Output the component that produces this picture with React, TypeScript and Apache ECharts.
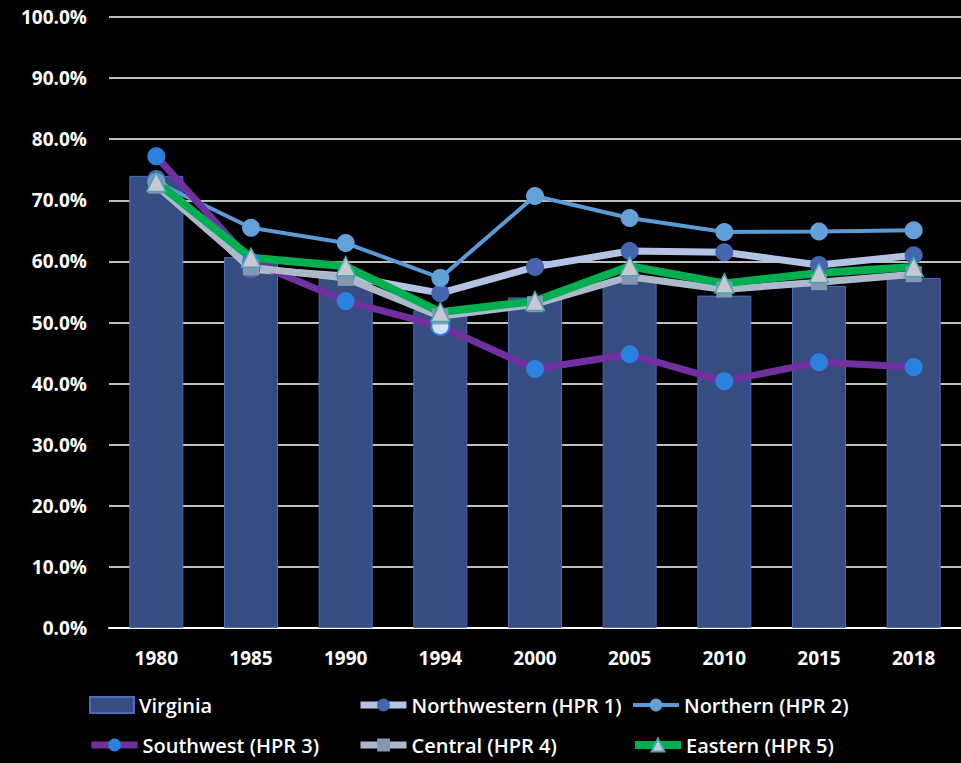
import React, { useEffect, useRef } from "react";
import * as echarts from "echarts";

const years = ["1980", "1985", "1990", "1994", "2000", "2005", "2010", "2015", "2018"];
const virginia = [74.0, 60.7, 57.3, 52.0, 54.1, 56.8, 54.4, 56.0, 57.3];
const northwestern = [73.5, 58.7, 57.6, 54.8, 59.1, 61.7, 61.5, 59.4, 61.0];
const northern = [73.0, 65.5, 63.0, 57.3, 70.7, 67.1, 64.8, 64.9, 65.1];
const southwest = [77.2, 60.0, 53.5, 49.4, 42.4, 44.8, 40.4, 43.5, 42.7];
const central = [72.4, 59.0, 57.3, 51.0, 53.0, 57.5, 55.4, 56.6, 57.9];
const eastern = [73.0, 60.6, 59.2, 51.7, 53.5, 59.2, 56.4, 58.1, 59.1];

const FONT = "'Open Sans', Lato, sans-serif";

export default function App() {
  const ref = useRef<HTMLDivElement>(null);
  useEffect(() => {
    if (!ref.current) return;
    const chart = echarts.init(ref.current, undefined, { renderer: "svg" });
    const legendText = { color: "#ffffff", fontSize: 20, fontFamily: FONT, fontWeight: 600 };
    const mkLegend = (name: string, left: number, top: number, lineWidth: number, isBar = false) => ({
      data: isBar ? [{ name, icon: "rect" }] : [name],
      left,
      top,
      padding: 0,
      itemWidth: isBar ? 44 : 46,
      itemHeight: 16,
      itemGap: 4,
      textStyle: legendText,
      selectedMode: false,
      lineStyle: { width: lineWidth },
    });
    const swData = southwest.map((v, i) =>
      i === 3
        ? { value: v, itemStyle: { color: "#cfe4fb", borderColor: "#2a80dc", borderWidth: 2 } }
        : v
    );
    chart.setOption({
      animation: false,
      backgroundColor: "#000000",
      grid: { left: 109, top: 17, width: 855, height: 611 },
      legend: [
        mkLegend("Virginia", 89, 695, 1, true),
        mkLegend("Northwestern (HPR 1)", 357, 695, 7),
        mkLegend("Northern (HPR 2)", 631, 695, 4),
        mkLegend("Southwest (HPR 3)", 88, 735, 7),
        mkLegend("Central (HPR 4)", 357, 735, 7),
        mkLegend("Eastern (HPR 5)", 631, 735, 8),
      ],
      xAxis: {
        type: "category",
        data: years,
        axisLine: { show: true, lineStyle: { color: "#ffffff", width: 2 } },
        axisTick: { show: false },
        axisLabel: { color: "#ffffff", fontSize: 19, fontWeight: 700, fontFamily: FONT, margin: 20 },
      },
      yAxis: {
        type: "value",
        min: 0,
        max: 100,
        interval: 10,
        axisLine: { show: false },
        axisTick: { show: false },
        splitLine: { lineStyle: { color: "#ffffff", width: 1.5 } },
        axisLabel: {
          color: "#ffffff",
          fontSize: 19,
          fontWeight: 700,
          fontFamily: FONT,
          margin: 22,
          formatter: (v: number) => v.toFixed(1) + "%",
        },
      },
      series: [
        {
          name: "Virginia",
          type: "bar",
          data: virginia,
          barWidth: 54,
          itemStyle: { color: "#374c80", borderColor: "#4a6cbc", borderWidth: 1 },
        },
        {
          name: "Northwestern (HPR 1)",
          type: "line",
          data: northwestern,
          symbol: "circle",
          symbolSize: 18,
          lineStyle: { color: "#b4c3e4", width: 7 },
          itemStyle: { color: "#4565ae" },
        },
        {
          name: "Northern (HPR 2)",
          type: "line",
          data: northern,
          symbol: "circle",
          symbolSize: 18,
          lineStyle: { color: "#5b9bd5", width: 4 },
          itemStyle: { color: "#62a1d9" },
        },
        {
          name: "Southwest (HPR 3)",
          type: "line",
          data: swData,
          symbol: "circle",
          symbolSize: 18,
          lineStyle: { color: "#7030a0", width: 7 },
          itemStyle: { color: "#2a82de" },
        },
        {
          name: "Central (HPR 4)",
          type: "line",
          data: central,
          symbol: "rect",
          symbolSize: 16,
          lineStyle: { color: "#adb9ca", width: 7 },
          itemStyle: { color: "#8497b0" },
        },
        {
          name: "Eastern (HPR 5)",
          type: "line",
          data: eastern,
          symbol: "triangle",
          symbolSize: 19,
          lineStyle: { color: "#00b050", width: 8 },
          itemStyle: { color: "#c9c8d2", borderColor: "#4aa6ad", borderWidth: 1.5 },
        },
      ],
    });
    return () => chart.dispose();
  }, []);
  return (
    <div
      ref={ref}
      style={{ position: "fixed", left: 0, top: 0, width: 961, height: 763, background: "#000" }}
    />
  );
}
